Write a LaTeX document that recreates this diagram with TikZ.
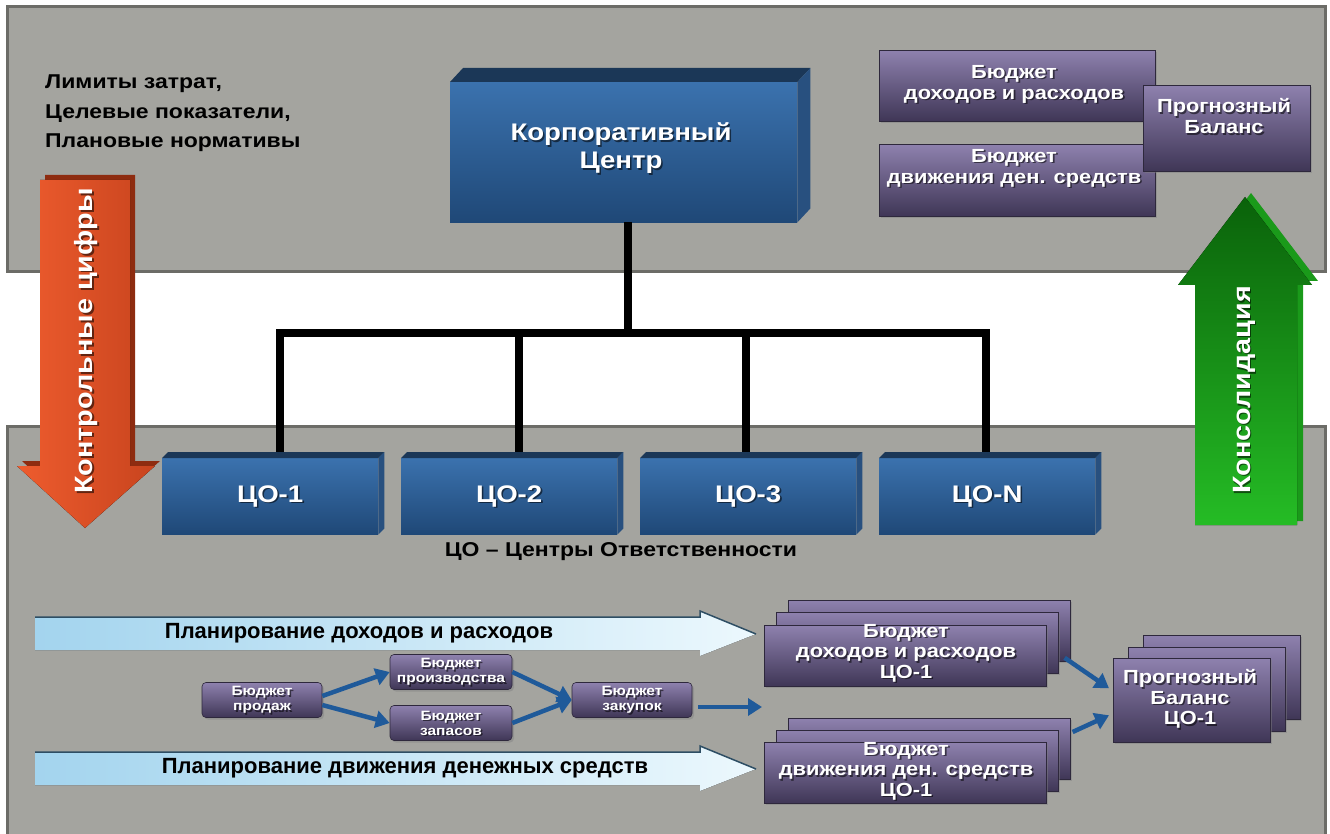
\documentclass[tikz,border=0pt]{standalone}
\usepackage{fontspec}
\setmainfont[FakeStretch=1.15]{Liberation Sans}
\newfontfamily\plainfont{Liberation Sans}
\usetikzlibrary{arrows.meta,calc,shadows}
\definecolor{panelfill}{HTML}{A4A49F}
\definecolor{paneledge}{HTML}{6C6C67}
\definecolor{blueA}{HTML}{3B72AE}
\definecolor{blueB}{HTML}{1F4877}
\definecolor{bluetopc}{HTML}{1B3757}
\definecolor{bluesidec}{HTML}{28507F}
\definecolor{purA}{HTML}{8E81AE}
\definecolor{purB}{HTML}{3F3656}
\definecolor{purEdge}{HTML}{2E283C}
\definecolor{redA}{HTML}{EE5C2E}
\definecolor{redB}{HTML}{C8441E}
\definecolor{redD}{HTML}{8E2C10}
\definecolor{grnTop}{HTML}{0A620A}
\definecolor{grnBot}{HTML}{25BC25}
\definecolor{grnD}{HTML}{1A9A1A}
\definecolor{lbA}{HTML}{A3D4EE}
\definecolor{lbB}{HTML}{ECF8FD}
\definecolor{lbEdge}{HTML}{2E4E64}
\definecolor{flowc}{HTML}{1F5A9A}
\newcommand\shtxt[4]{%
  \node[#2,text=black,text opacity=0.55] (#1s) at ($(#3)+(1.6,1.6)$) {#4};
  \node[#2] (#1) at (#3) {#4};}
\begin{document}
\begin{tikzpicture}[x=1pt,y=-1pt,
  panelst/.style={fill=panelfill,draw=paneledge,line width=3pt},
  bluefront/.style={top color=blueA,bottom color=blueB,inner sep=0pt,anchor=north west},
  bluetop/.style={fill=bluetopc},
  blueside/.style={fill=bluesidec},
  colab/.style={text=white,font=\bfseries\fontsize{24}{28}\selectfont},
  tree/.style={line width=8pt,black},
  purbox/.style={top color=purA,bottom color=purB,draw=purEdge,line width=0.6pt,inner sep=0pt,
    anchor=north west,drop shadow={shadow xshift=2pt,shadow yshift=-2pt,opacity=0.45}},
  smallbox/.style={purbox,anchor=center,rounded corners=4pt,minimum width=120pt,minimum height=35pt},
  smalltext/.style={text=white,align=center,font=\bfseries\fontsize{13.5}{15}\selectfont},
  purtext/.style={text=white,align=center,font=\bfseries\fontsize{19}{21}\selectfont},
  stacktext/.style={text=white,align=center,font=\bfseries\fontsize{19}{20.5}\selectfont},
  flow/.style={draw=flowc,line width=4.5pt,-{Triangle[length=14pt,width=17pt]}},
  plantext/.style={font=\plainfont\bfseries\fontsize{22}{24}\selectfont,text=black},
  lbarrow/.style={left color=lbA,right color=lbB},
  lbline/.style={draw=lbEdge,line width=1.5pt},
  rottext/.style={rotate=90,text=white,font=\bfseries\fontsize{25}{28}\selectfont}]
\useasboundingbox (0,0) rectangle (1330,834);
\fill[white] (0,0) rectangle (1330,834);

% panels
\draw[panelst] (7,7) rectangle (1325,272);
\draw[panelst] (7,426) rectangle (1325,838);

% left text
\node[anchor=north west,align=left,font=\bfseries\fontsize{20}{29.5}\selectfont,inner sep=0pt] (limits) at (45,75)
  {Лимиты затрат,\\Целевые показатели,\\Плановые нормативы};

% tree connectors
\coordinate (hub) at (628,333);
\coordinate (t1) at (280,333);
\coordinate (t2) at (519,333);
\coordinate (t3) at (746,333);
\coordinate (t4) at (986,333);

% corporate center
\node[bluefront,minimum width=347pt,minimum height=140pt] (kc) at (450,82) {};
\fill[bluetop] (kc.north west) -- ++(13,-14) -- ($(kc.north east)+(13,-14)$) -- (kc.north east) -- cycle;
\fill[blueside] (kc.north east) -- ++(13,-14) -- ($(kc.south east)+(13,-14)$) -- (kc.south east) -- cycle;
\shtxt{kctext}{colab,align=center}{621,148}{Корпоративный\\Центр}

\draw[tree] (hub |- kc.south) -- (hub);
\draw[tree,line cap=rect] (t1) -- (t4);
\draw[tree] (t1) -- (t1 |- 0,458);
\draw[tree] (t2) -- (t2 |- 0,458);
\draw[tree] (t3) -- (t3 |- 0,458);
\draw[tree] (t4) -- (t4 |- 0,458);

% CO boxes
\foreach \nm/\xx/\lab in {co1/162/ЦО-1,co2/401/ЦО-2,co3/640/ЦО-3,coN/879/ЦО-N}{
  \node[bluefront,minimum width=216pt,minimum height=76pt] (\nm) at (\xx,458) {};
  \fill[bluetop] (\nm.north west) -- ++(6,-6) -- ($(\nm.north east)+(6,-6)$) -- (\nm.north east) -- cycle;
  \fill[blueside] (\nm.north east) -- ++(6,-6) -- ($(\nm.south east)+(6,-6)$) -- (\nm.south east) -- cycle;
  \shtxt{\nm t}{colab}{\nm.center}{\lab}
}
\node[font=\bfseries\fontsize{20}{22}\selectfont] (colegend) at (621,552) {ЦО – Центры Ответственности};

% red arrow
\fill[redD] (45,175) -- (135,175) -- (135,461) -- (160,461) -- (90,523) -- (22,461) -- (45,461) -- cycle;
\fill[left color=redA,right color=redB] (40,180) -- (130,180) -- (130,466) -- (155,466) -- (85,528) -- (17,466) -- (40,466) -- cycle;
\shtxt{kcf}{rottext}{86,341}{Контрольные цифры}

% green arrow
\fill[grnD] (1201,281) -- (1318,281) -- (1251,193) -- (1184,281) -- (1201,281) -- (1201,521) -- (1303,521) -- (1303,281) -- cycle;
\fill[top color=grnTop,bottom color=grnBot] (1195,285) -- (1178,285) -- (1245,197) -- (1312,285) -- (1297,285) -- (1297,525) -- (1195,525) -- cycle;
\shtxt{kons}{rottext}{1244,390}{Консолидация}

% top-right budgets
\node[purbox,minimum width=276pt,minimum height=71pt] (b1) at (879,50) {};
\node[purbox,minimum width=276pt,minimum height=72pt] (b2) at (879,144) {};
\node[purbox,minimum width=167pt,minimum height=86pt] (pb0) at (1143,85) {};
\shtxt{b1t}{purtext}{1014,84}{Бюджет\\доходов и расходов}
\shtxt{b2t}{purtext}{1014,168}{Бюджет\\движения ден. средств}
\shtxt{pb0t}{purtext}{1224,116}{Прогнозный\\Баланс}

% light blue process arrows
\fill[lbarrow] (35,617) -- (700,617) -- (700,611) -- (756,634) -- (700,656) -- (700,650) -- (35,650) -- cycle;
\draw[lbline] (35,617) -- (700,617) -- (700,611) -- (756,634);
\node[plantext] (plan1) at (359,633) {Планирование доходов и расходов};
\fill[lbarrow] (35,752) -- (700,752) -- (700,746) -- (756,769) -- (700,791) -- (700,785) -- (35,785) -- cycle;
\draw[lbline] (35,752) -- (700,752) -- (700,746) -- (756,769);
\node[plantext] (plan2) at (405,768) {Планирование движения денежных средств};

% small budgets
\node[smallbox] (sales) at (262,700) {};
\node[smallbox,minimum width=122pt] (prod) at (451,672) {};
\node[smallbox,minimum width=122pt] (stock) at (451,723) {};
\node[smallbox] (purch) at (632,700) {};
\shtxt{salest}{smalltext}{sales.center}{Бюджет\\продаж}
\shtxt{prodt}{smalltext}{prod.center}{Бюджет\\производства}
\shtxt{stockt}{smalltext}{stock.center}{Бюджет\\запасов}
\shtxt{purcht}{smalltext}{purch.center}{Бюджет\\закупок}
\coordinate (gap) at (762,707);
\draw[flow] ($(sales.east)+(0,-4)$) -- (prod.west);
\draw[flow] ($(sales.east)+(0,5)$) -- (stock.west);
\draw[flow] (prod.east) -- (purch.west);
\draw[flow] (stock.east) -- (purch.west);
\draw[flow] ($(purch.east |- gap)+(6,0)$) -- (gap);

% stacked budgets CO-1
\node[purbox,minimum width=282pt,minimum height=61pt] (bdr3) at (788,600) {};
\node[purbox,minimum width=282pt,minimum height=61pt] (bdr2) at (776,612) {};
\node[purbox,minimum width=282pt,minimum height=61pt] (bdr) at (764,625) {};
\shtxt{bdrt}{stacktext}{906,653}{Бюджет\\доходов и расходов\\ЦО-1}

\node[purbox,minimum width=282pt,minimum height=61pt] (bdds3) at (788,718) {};
\node[purbox,minimum width=282pt,minimum height=61pt] (bdds2) at (776,730) {};
\node[purbox,minimum width=282pt,minimum height=61pt] (bdds) at (764,742) {};
\shtxt{bddst}{stacktext}{906,771}{Бюджет\\движения ден. средств\\ЦО-1}

\node[purbox,minimum width=157pt,minimum height=84pt] (pb3) at (1143,635) {};
\node[purbox,minimum width=157pt,minimum height=84pt] (pb2) at (1128,647) {};
\node[purbox,minimum width=157pt,minimum height=84pt] (pb) at (1113,658) {};
\shtxt{pbt}{stacktext}{1190,699}{Прогнозный\\Баланс\\ЦО-1}

\draw[flow] ($(bdr.east)+(18,2)$) -- ($(pb.west)+(-4,-12)$);
\draw[flow] ($(bdds.north east)+(26,-10)$) -- ($(pb.west)+(-4,15)$);
\end{tikzpicture}
\end{document}
